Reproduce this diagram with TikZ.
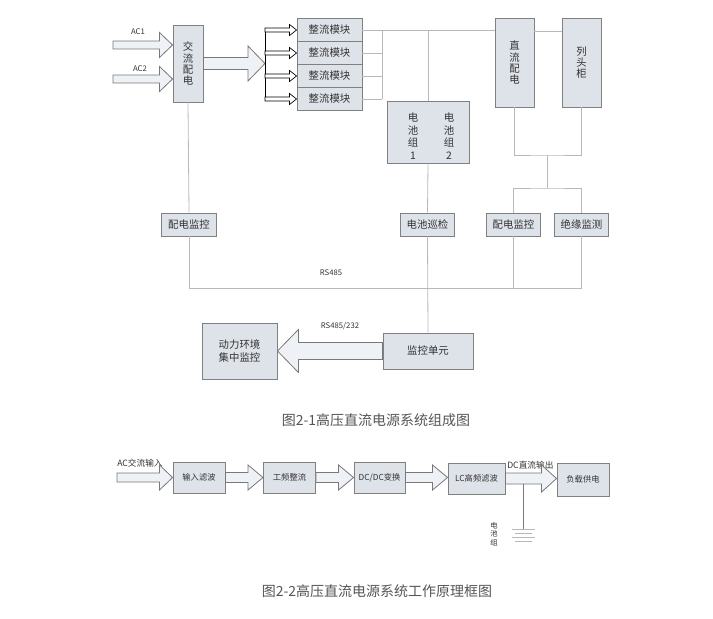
\documentclass[tikz,border=0pt]{standalone}
\usepackage{fontspec}
\setmainfont{Noto Sans CJK SC}
\usetikzlibrary{calc}

\definecolor{boxfill}{RGB}{222,226,233}
\definecolor{boxline}{RGB}{128,128,128}
\definecolor{wire}{RGB}{185,185,185}
\definecolor{arrline}{RGB}{120,120,120}
\definecolor{arrfill}{RGB}{238,241,245}
\definecolor{txt}{RGB}{51,51,51}
\definecolor{captxt}{RGB}{85,85,85}

% hollow block arrow: [style]{start}{tip}{shaft half}{head half}{head length}, sizes in px
\newcommand\fatarrow[6][fatarr]{%
  \draw[#1] let \p1=(#2), \p2=(#3) in
    (\x1,{\y1+#4*0.75pt}) -- ({\x2-(#6)*0.75pt},{\y1+#4*0.75pt})
    -- ({\x2-(#6)*0.75pt},{\y1+#5*0.75pt}) -- (\x2,\y1)
    -- ({\x2-(#6)*0.75pt},{\y1-#5*0.75pt}) -- ({\x2-(#6)*0.75pt},{\y1-#4*0.75pt})
    -- (\x1,{\y1-#4*0.75pt}) -- cycle;}

\begin{document}
\begin{tikzpicture}[x=0.75pt,y=-0.75pt,
  box/.style={draw=boxline,fill=boxfill,line width=0.7pt,inner sep=0pt,text=txt,
    align=center,font=\fontsize{7.8}{8.3}\selectfont},
  smallbox/.style={box,minimum width=41pt,minimum height=17.25pt},
  flowbox/.style={box,minimum height=23.25pt,font=\fontsize{6.2}{7}\selectfont},
  link/.style={draw=wire,line width=0.6pt},
  dark/.style={draw=arrline,line width=0.6pt},
  fatarr/.style={draw=arrline,fill=arrfill,line width=0.6pt},
  thinarr/.style={draw=black,fill=white,line width=0.5pt},
  lbl/.style={inner sep=0pt,text=txt,font=\fontsize{5.8}{6.5}\selectfont},
  caption/.style={inner sep=0pt,text=captxt,font=\fontsize{10.5}{12}\selectfont}]
\useasboundingbox (0,0) rectangle (713,618);

% ---- composition diagram
\node[box,minimum width=22.5pt,minimum height=57.75pt] (acpd) at (188,63.5) {交\\流\\配\\电};
\node[box,minimum width=48.75pt,minimum height=17.25pt] (zl1) at (329.5,30) {整流模块};
\node[box,minimum width=48.75pt,minimum height=17.25pt] (zl2) at (329.5,53) {整流模块};
\node[box,minimum width=48.75pt,minimum height=17.25pt] (zl3) at (329.5,76) {整流模块};
\node[box,minimum width=48.75pt,minimum height=17.25pt] (zl4) at (329.5,99) {整流模块};
\node[box,minimum width=61.5pt,minimum height=46.5pt] (batt) at (428,132) {};
\node[lbl,font=\fontsize{7.8}{9.5}\selectfont,align=center] (bt1) at (413,136) {电\\池\\组\\1};
\node[lbl,font=\fontsize{7.8}{9.5}\selectfont,align=center] (bt2) at (449,136) {电\\池\\组\\2};
\node[box,minimum width=29.25pt,minimum height=66.75pt] (dcpd) at (514.5,62.5) {直\\流\\配\\电};
\node[box,minimum width=29.25pt,minimum height=66.75pt] (ltg) at (581.5,62.5) {列\\头\\柜};
\node[smallbox] (pd1) at (189,224.5) {配电监控};
\node[smallbox] (bx) at (427.5,224.5) {电池巡检};
\node[smallbox] (pd2) at (513.5,224.5) {配电监控};
\node[smallbox] (jy) at (581.5,224.5) {绝缘监测};
\node[box,minimum width=56.25pt,minimum height=42pt,font=\fontsize{7.8}{9.75}\selectfont] (dlhj) at (239.5,351) {动力环境\\集中监控};
\node[box,minimum width=67.5pt,minimum height=27pt] (unit) at (428,351) {监控单元};

\coordinate (ac1s) at (113,45);
\coordinate (ac2s) at (113,79);
\coordinate (fork) at (265,63.5);
\coordinate (bus) at (382,30);
\coordinate (j1) at (547,155);
\coordinate (j2) at (547,188);
\coordinate (busR) at (581.5,288);

\node[lbl] (ac1) at (138,32) {AC1};
\node[lbl] (ac2) at (140,69) {AC2};
\fatarrow{ac1s}{acpd.west |- ac1s}{4}{12.5}{13}
\fatarrow{ac2s}{acpd.west |- ac2s}{4}{12.5}{13}
\fatarrow{acpd.east}{fork}{6}{17.5}{17}
\draw[black,line width=0.6pt] (zl1.west -| fork) -- (zl4.west -| fork);
\fatarrow[thinarr]{zl1.west -| fork}{zl1.west}{2}{5.5}{7}
\fatarrow[thinarr]{zl2.west -| fork}{zl2.west}{2}{5.5}{7}
\fatarrow[thinarr]{zl3.west -| fork}{zl3.west}{2}{5.5}{7}
\fatarrow[thinarr]{zl4.west -| fork}{zl4.west}{2}{5.5}{7}

\draw[link] (zl1.east) -- (zl1.east -| dcpd.west);
\draw[link] (zl2.east) -- (zl2.east -| bus);
\draw[link] (zl3.east) -- (zl3.east -| bus);
\draw[link] (zl4.east) -- (zl4.east -| bus);
\draw[link] (bus) -- (zl4.east -| bus);
\draw[link] (batt.north |- zl1.east) -- (batt.north);
\draw[link] ($(dcpd.north east)+(0,14)$) -- ($(ltg.north west)+(0,14)$);
\draw[link] (dcpd.south) |- (j1) -| (ltg.south);
\draw[link] (j1) -- (j2);
\draw[link] (pd2.north) |- (j2) -| (jy.north);
\draw[link] (acpd.south) -- (pd1.north);
\draw[link] (batt.south) -- (bx.north);
\draw[link] (pd1.south) |- (busR) -- (jy.south);
\draw[link] (pd2.south) -- (pd2.south |- busR);
\draw[link] (bx.south) -- (unit.north);
\node[lbl] (rs485) at (331,273) {RS485};
\node[lbl] (rs232) at (340,326) {RS485/232};
\fatarrow{unit.west}{dlhj.east}{8.5}{21.5}{-21}

\node[caption] (cap1) at (376,420) {图2-1高压直流电源系统组成图};

% ---- working principle diagram
\node[flowbox,minimum width=39pt] (srlb) at (199,477.5) {输入滤波};
\node[flowbox,minimum width=39pt] (gpzl) at (289.5,477.5) {工频整流};
\node[flowbox,minimum width=38.25pt] (dcdc) at (379.5,477.5) {DC/DC变换};
\node[flowbox,minimum width=42.75pt] (lcgl) at (476.5,478.5) {LC高频滤波};
\node[flowbox,minimum width=39pt,minimum height=24.75pt] (fzgd) at (583,479.5) {负载供电};

\coordinate (acin) at (117,477.5);
\coordinate (tap) at (523,484);
\coordinate (gnd) at (523,529);
\node[lbl,anchor=west,font=\fontsize{6.5}{7}\selectfont] (acl) at (117,463) {AC交流输入};
\node[lbl,anchor=west,font=\fontsize{6.5}{7}\selectfont] (dcl) at (507,465) {DC直流输出};
\fatarrow{acin}{srlb.west}{4.5}{12.5}{13}
\fatarrow{srlb.east}{gpzl.west}{5}{12.5}{15}
\fatarrow{gpzl.east}{dcdc.west}{5}{12.5}{15}
\fatarrow{dcdc.east}{lcgl.west}{5}{12.5}{15}
\fatarrow{lcgl.east}{fzgd.west}{5.5}{13.5}{15}
\draw[dark] (tap) -- (gnd);
\draw[link] (512,529) -- (535,529);
\draw[link] (515,533) -- (532,533);
\draw[link] (512,537) -- (535,537);
\draw[link] (515,541) -- (532,541);
\node[lbl,align=center,font=\fontsize{5.5}{6.2}\selectfont] (dcz) at (494,534) {电\\池\\组};

\node[caption] (cap2) at (377,591) {图2-2高压直流电源系统工作原理框图};
\end{tikzpicture}
\end{document}
